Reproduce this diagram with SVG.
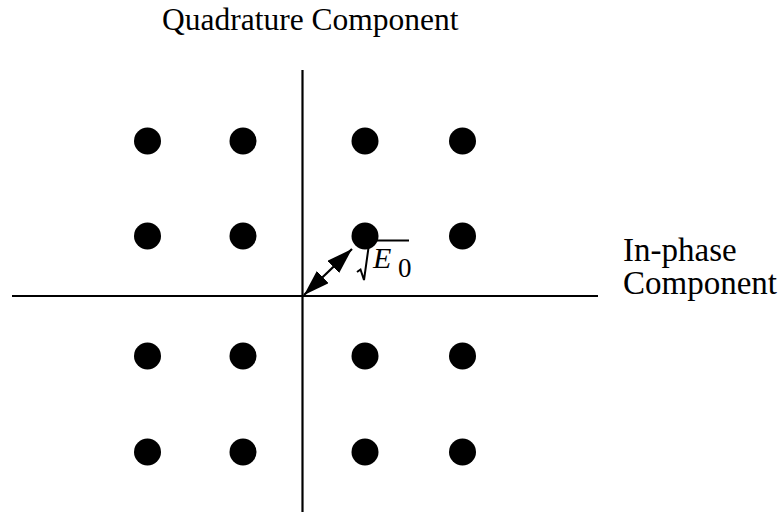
<svg xmlns="http://www.w3.org/2000/svg" width="781" height="512" viewBox="0 0 781 512">
<style>
.lbl{font-family:"Liberation Serif","Times New Roman",serif;fill:#000}
.dot{fill:#000}
.axis{stroke:#000;stroke-width:2.2;fill:none}
</style>
<defs>
<marker id="ah" markerUnits="userSpaceOnUse" markerWidth="26" markerHeight="17" viewBox="0 0 26 17" refX="26" refY="8.5" orient="auto-start-reverse">
<path d="M0,0 L26,8.5 L0,17 z" fill="#000"/>
</marker>
</defs>
<rect width="781" height="512" fill="#fff"/>
<g id="axes">
<line class="axis" x1="302.5" y1="70" x2="302.5" y2="512"/>
<line class="axis" x1="12" y1="296" x2="598" y2="296"/>
</g>
<g id="connectors">
<line x1="304" y1="295" x2="352" y2="249" stroke="#000" stroke-width="2.2" marker-start="url(#ah)" marker-end="url(#ah)"/>
</g>
<g id="points">
<circle class="dot" cx="147.5" cy="141" r="13.5"/>
<circle class="dot" cx="243" cy="141" r="13.5"/>
<circle class="dot" cx="365" cy="141" r="13.5"/>
<circle class="dot" cx="462.5" cy="141" r="13.5"/>
<circle class="dot" cx="147.5" cy="236" r="13.5"/>
<circle class="dot" cx="243" cy="236" r="13.5"/>
<circle class="dot" cx="365" cy="236" r="13.5"/>
<circle class="dot" cx="462.5" cy="236" r="13.5"/>
<circle class="dot" cx="147.5" cy="356" r="13.5"/>
<circle class="dot" cx="243" cy="356" r="13.5"/>
<circle class="dot" cx="365" cy="356" r="13.5"/>
<circle class="dot" cx="462.5" cy="356" r="13.5"/>
<circle class="dot" cx="147.5" cy="452" r="13.5"/>
<circle class="dot" cx="243" cy="452" r="13.5"/>
<circle class="dot" cx="365" cy="452" r="13.5"/>
<circle class="dot" cx="462.5" cy="452" r="13.5"/>
</g>
<g id="sqrt-label">
<path d="M357,272 L360.5,269.5 L364,280 L369.5,240.5 L409,240.5" fill="none" stroke="#000" stroke-width="2" stroke-linejoin="miter"/>
<text class="lbl" x="373" y="268" font-size="30" font-style="italic">E</text>
<text class="lbl" x="398" y="277" font-size="27">0</text>
</g>
<g id="title-q">
<text class="lbl" x="162" y="30" font-size="31.5">Quadrature Component</text>
</g>
<g id="title-i">
<text class="lbl" x="623" y="261" font-size="33">In-phase</text>
<text class="lbl" x="623" y="294" font-size="33">Component</text>
</g>
</svg>
